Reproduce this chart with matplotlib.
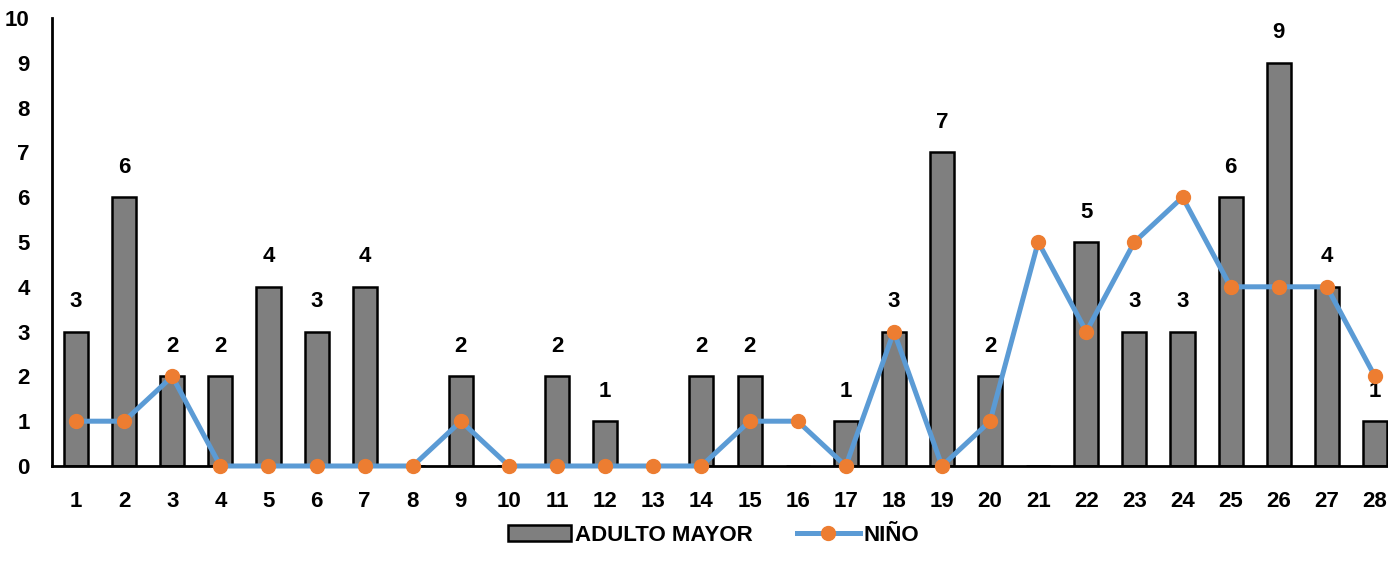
import matplotlib.pyplot as plt

dias = list(range(1, 29))
adulto_mayor = [3, 6, 2, 2, 4, 3, 4, 0, 2, 0, 2, 1, 0, 2, 2, 0, 1, 3, 7, 2, 0, 5, 3, 3, 6, 9, 4, 1]
nino = [1, 1, 2, 0, 0, 0, 0, 0, 1, 0, 0, 0, 0, 0, 1, 1, 0, 3, 0, 1, 5, 3, 5, 6, 4, 4, 4, 2]

plt.rcParams["font.family"] = ["Liberation Sans", "DejaVu Sans"]
plt.rcParams["font.weight"] = "bold"

W, H = 1388, 577
fig = plt.figure(figsize=(W / 100, H / 100), dpi=100)
ax = fig.add_axes([52 / W, (H - 466) / H, (1399 - 52) / W, 448 / H])

bars = ax.bar(dias, adulto_mayor, width=0.5, color="#7f7f7f", edgecolor="black",
              linewidth=1.8, label="ADULTO MAYOR", zorder=2)
labels = [str(v) if v > 0 else "" for v in adulto_mayor]
ax.bar_label(bars, labels=labels, padding=14, fontsize=16, fontweight="bold")

linea, = ax.plot(dias, nino, color="#5b9bd5", linewidth=3.6, marker="o", markersize=10,
                 markerfacecolor="#ed7d31", markeredgecolor="#ed7d31", label="NIÑO",
                 zorder=3, clip_on=False)

ax.set_xlim(0.5, 28.5)
ax.set_ylim(0, 10)
ax.set_xticks(dias)
ax.set_yticks(range(0, 11))
ax.tick_params(axis="x", length=0, pad=18, labelsize=16)
ax.tick_params(axis="y", length=0, pad=16, labelsize=16)
for s in ["top", "right"]:
    ax.spines[s].set_visible(False)
ax.spines["left"].set_linewidth(2)
ax.spines["bottom"].set_linewidth(2)

ax.legend(handles=[bars, linea], loc="center", bbox_to_anchor=(662 / 1347, -0.155), ncol=2,
          frameon=False, fontsize=16, handlelength=2.8, columnspacing=2.0, handletextpad=0.2)

fig.savefig("out.png", dpi=100)
